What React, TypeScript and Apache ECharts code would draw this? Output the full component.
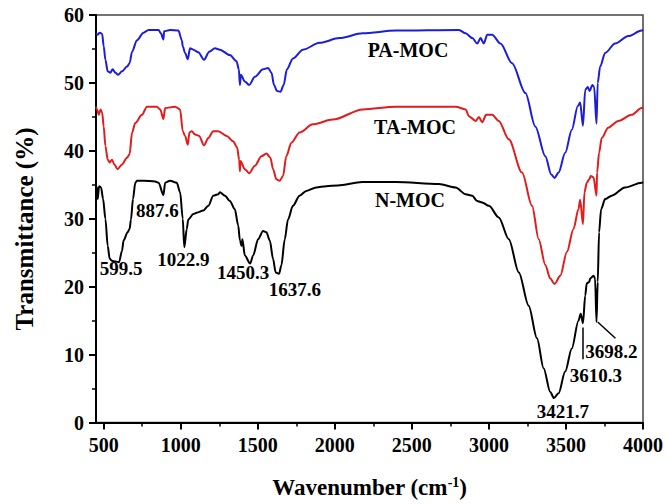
import React, { useEffect, useRef } from "react";
import * as echarts from "echarts";

// FTIR spectra: [wavenumber (cm-1), transmittance (%)]
const paMoc: [number, number][] = [
  [450, 57.3], [461, 57.1], [474, 57.4], [490, 57.2], [500, 55.4], [511, 53.4], [526, 51.7],
  [543, 51.5], [558, 52.0], [576, 51.5], [593, 51.2], [619, 51.7], [651, 52.4], [668, 52.9],
  [684, 54.6], [716, 56.3], [759, 57.4], [791, 57.8], [856, 57.8], [871, 57.3], [887.6, 56.4],
  [892, 57.6], [931, 57.8], [985, 57.7], [1007, 56.3], [1013, 55.4], [1028, 54.4], [1046, 53.5],
  [1060, 55.1], [1082, 54.9], [1114, 54.5], [1151, 53.4], [1185, 54.6], [1222, 55.1], [1254, 54.9],
  [1319, 54.1], [1362, 53.2], [1377, 52.0], [1384, 49.7], [1390, 51.2], [1416, 50.2], [1444, 49.7],
  [1481, 50.9], [1534, 52.0], [1567, 52.2], [1589, 51.5], [1605, 49.7], [1625, 48.8], [1647, 48.7],
  [1668, 49.7], [1689, 52.0], [1728, 53.6], [1793, 54.9], [1901, 55.9], [2030, 56.6], [2181, 57.3],
  [2397, 57.7], [2806, 57.8], [2849, 57.3], [2892, 56.6], [2924, 55.8], [2946, 56.6], [2967, 55.8],
  [2989, 57.1], [3021, 57.1], [3075, 55.8], [3150, 52.9], [3237, 48.5], [3301, 43.6], [3366, 39.2],
  [3405, 36.5], [3426, 36.0], [3452, 36.8], [3495, 39.7], [3538, 43.1], [3577, 46.6], [3592, 47.1],
  [3610.3, 43.7], [3625, 49.0], [3642, 49.4], [3653, 48.8], [3672, 49.7], [3683, 49.4], [3698.2, 44.0],
  [3706, 50.0], [3722, 52.4], [3754, 54.4], [3819, 55.8], [3905, 56.9], [3991, 57.7], [4000, 57.8],
];

const taMoc: [number, number][] = [
  [450, 46.5], [457, 46.1], [468, 45.3], [479, 46.1], [490, 45.6], [500, 43.6], [511, 40.7],
  [526, 38.7], [539, 38.3], [554, 38.7], [569, 38.0], [590, 37.3], [619, 38.0], [651, 39.0],
  [668, 39.5], [684, 42.7], [705, 44.1], [748, 45.3], [781, 46.5], [845, 46.5], [867, 46.1],
  [887.6, 44.7], [899, 46.3], [963, 46.5], [996, 46.1], [1013, 42.9], [1028, 42.2], [1046, 40.9],
  [1056, 42.7], [1071, 42.9], [1093, 42.4], [1119, 42.2], [1151, 40.8], [1179, 41.9], [1211, 42.9],
  [1243, 42.9], [1298, 42.2], [1340, 41.4], [1366, 40.5], [1379, 38.7], [1384, 37.0], [1388, 38.5],
  [1416, 37.3], [1444, 36.7], [1481, 37.8], [1524, 39.2], [1556, 39.6], [1582, 39.0], [1599, 37.3],
  [1621, 35.8], [1642, 35.6], [1664, 36.3], [1685, 39.2], [1718, 41.2], [1771, 42.7], [1857, 43.9],
  [1987, 44.6], [2181, 46.1], [2397, 46.5], [2784, 46.5], [2849, 46.1], [2870, 45.1], [2914, 44.4],
  [2935, 45.0], [2956, 44.2], [2982, 45.3], [3021, 45.3], [3064, 44.4], [3129, 41.7], [3215, 36.8],
  [3280, 31.9], [3323, 27.0], [3366, 23.2], [3398, 21.2], [3426, 20.4], [3463, 21.6], [3506, 25.1],
  [3549, 28.5], [3581, 31.4], [3592, 32.8], [3610.3, 29.2], [3620, 33.9], [3635, 35.3], [3651, 35.8],
  [3661, 36.3], [3679, 36.1], [3698.2, 33.4], [3702, 36.8], [3715, 39.7], [3732, 41.9], [3774, 43.4],
  [3840, 44.4], [3926, 45.3], [3991, 46.3], [4000, 46.4],
];

const nMoc: [number, number][] = [
  [450, 34.8], [457, 34.6], [461, 32.9], [470, 34.8], [483, 34.6], [496, 32.9], [511, 30.0],
  [526, 26.0], [539, 24.1], [554, 23.8], [576, 23.7], [599.5, 23.6], [619, 25.3], [629, 26.8],
  [655, 28.0], [668, 28.5], [677, 29.9], [690, 32.9], [705, 35.3], [716, 35.6], [759, 35.6],
  [834, 35.5], [856, 35.3], [887.6, 33.5], [899, 35.3], [931, 35.6], [974, 35.3], [996, 33.9],
  [1013, 30.0], [1022.9, 25.8], [1039, 28.5], [1049, 29.9], [1082, 30.7], [1104, 30.9], [1146, 31.2],
  [1179, 31.9], [1211, 33.4], [1243, 33.6], [1254, 33.9], [1287, 33.4], [1319, 32.6], [1351, 31.4],
  [1373, 29.0], [1384, 26.8], [1395, 26.0], [1400, 27.0], [1416, 24.6], [1450.3, 23.4], [1470, 24.6],
  [1502, 27.0], [1534, 28.2], [1556, 28.0], [1578, 26.8], [1599, 24.1], [1616, 22.1], [1637.6, 21.9],
  [1653, 23.1], [1675, 27.0], [1696, 29.9], [1728, 31.9], [1771, 33.4], [1815, 34.1], [1879, 34.6],
  [1944, 34.8], [2019, 34.9], [2179, 35.4], [2397, 35.4], [2676, 35.1], [2784, 34.6], [2849, 33.6],
  [2892, 33.4], [2924, 32.6], [2956, 32.4], [3000, 31.9], [3064, 30.2], [3129, 27.0], [3194, 22.1],
  [3258, 17.2], [3312, 12.4], [3355, 8.0], [3398, 4.5], [3421.7, 3.6], [3452, 4.3], [3495, 7.5],
  [3538, 10.9], [3581, 15.0], [3596, 16.0], [3610.3, 14.6], [3625, 18.7], [3635, 20.5], [3651, 20.7],
  [3657, 21.2], [3679, 21.6], [3689, 21.2], [3698.2, 14.8], [3706, 20.7], [3715, 28.0], [3728, 31.4],
  [3754, 32.9], [3797, 33.4], [3883, 34.6], [3991, 35.3], [4000, 35.4],
];

// Peak positions annotated on the N-MOC spectrum
const peakWaves = [599.5, 887.6, 1022.9, 1450.3, 1637.6, 3421.7, 3610.3, 3698.2];

const xLabelTicks = [500, 1000, 1500, 2000, 2500, 3000, 3500, 4000];
const xMinorTicks = [750, 1250, 1750, 2250, 2750, 3250, 3750];

const FONT = '"Liberation Serif", "Times New Roman", serif';

// pixel offsets of each peak label from its dip
const peakLabelOffset: Record<string, [number, number]> = {
  "599.5": [2, 6],
  "887.6": [-6, 16],
  "1022.9": [-1, 12],
  "1450.3": [-7, 9],
  "1637.6": [16, 16],
  "3421.7": [9, 13],
  "3610.3": [13, 52],
  "3698.2": [15, 30],
};

function valueAt(series: [number, number][], w: number): number {
  const p = series.find((d) => d[0] === w);
  return p ? p[1] : 0;
}

export default function App() {
  const ref = useRef<HTMLDivElement>(null);

  useEffect(() => {
    if (!ref.current) return;
    const chart = echarts.init(ref.current, undefined, { renderer: "svg" });

    const lineBase = {
      type: "line" as const,
      showSymbol: false,
      smooth: 0.3,
      smoothMonotone: "x" as const,
      xAxisIndex: 0,
      yAxisIndex: 0,
      silent: true,
    };

    chart.setOption({
      animation: false,
      backgroundColor: "#ffffff",
      textStyle: { fontFamily: FONT },
      grid: {
        left: 96,
        right: 22,
        top: 15,
        bottom: 80,
        show: true,
        borderColor: "#444",
        borderWidth: 1.5,
      },
      xAxis: [
        {
          type: "value",
          min: 450,
          max: 4000,
          name: "Wavenumber (cm{sup|-1})",
          nameLocation: "middle",
          nameGap: 53,
          nameTextStyle: {
            fontFamily: FONT,
            fontSize: 23,
            fontWeight: "bold",
            color: "#000",
            rich: {
              sup: {
                fontFamily: FONT,
                fontSize: 14,
                fontWeight: "bold",
                color: "#000",
                verticalAlign: "top",
                padding: [0, 0, 10, 0],
              },
            },
          },
          axisLine: { show: true, lineStyle: { color: "#000", width: 2 } },
          axisTick: { show: true, length: 7, lineStyle: { color: "#000", width: 2 }, customValues: xLabelTicks },
          axisLabel: {
            customValues: xLabelTicks,
            formatter: (v: number) => String(v),
            margin: 12,
            fontFamily: FONT,
            fontSize: 20,
            fontWeight: "bold",
            color: "#000",
          },
          splitLine: { show: false },
        },
        {
          type: "value",
          min: 450,
          max: 4000,
          position: "bottom",
          axisLine: { show: false },
          axisTick: { show: true, length: 4, lineStyle: { color: "#000", width: 1.5 }, customValues: xMinorTicks },
          axisLabel: { show: false },
          splitLine: { show: false },
        },
      ],
      yAxis: {
        type: "value",
        min: 0,
        max: 60,
        interval: 10,
        axisLine: { show: true, lineStyle: { color: "#000", width: 2 } },
        axisTick: { show: true, length: 7, lineStyle: { color: "#000", width: 2 } },
        minorTick: { show: true, splitNumber: 2, length: 4, lineStyle: { color: "#000", width: 1.5 } },
        axisLabel: { margin: 12, fontFamily: FONT, fontSize: 20, fontWeight: "bold", color: "#000" },
        splitLine: { show: false },
        minorSplitLine: { show: false },
      },
      series: [
        { ...lineBase, name: "PA-MOC", data: paMoc, lineStyle: { color: "#1c1cdc", width: 2 }, itemStyle: { color: "#1c1cdc" } },
        { ...lineBase, name: "TA-MOC", data: taMoc, lineStyle: { color: "#e21c1c", width: 2 }, itemStyle: { color: "#e21c1c" } },
        {
          ...lineBase,
          name: "N-MOC",
          data: nMoc,
          lineStyle: { color: "#000", width: 2 },
          itemStyle: { color: "#000" },
          markPoint: {
            symbol: "circle",
            symbolSize: 1,
            itemStyle: { color: "rgba(0,0,0,0)" },
            label: {
              show: true,
              position: "inside",
              fontFamily: FONT,
              fontSize: 19,
              fontWeight: "bold",
              color: "#000",
            },
            data: peakWaves.map((w) => {
              const txt = String(w);
              return {
                coord: [w, valueAt(nMoc, w)],
                label: { formatter: txt, offset: peakLabelOffset[txt] },
              };
            }),
          },
          markLine: {
            silent: true,
            symbol: ["none", "none"],
            label: { show: false },
            lineStyle: { color: "#000", width: 1.5, type: "solid" },
            data: [
              [{ coord: [3610.3, 14.0] }, { coord: [3610.3, 9.3] }],
              [{ coord: [3706, 14.8] }, { coord: [3821, 12.4] }],
            ],
          },
        },
      ],
      graphic: [
        {
          type: "text",
          x: 24,
          y: 229,
          rotation: Math.PI / 2,
          style: { text: "Transmittance (%)", font: `bold 25px ${FONT}`, fill: "#000", align: "center", verticalAlign: "middle" },
        },
        { type: "text", x: 408, y: 50, style: { text: "PA-MOC", font: `bold 20px ${FONT}`, fill: "#000", align: "center", verticalAlign: "middle" } },
        { type: "text", x: 415, y: 127, style: { text: "TA-MOC", font: `bold 20px ${FONT}`, fill: "#000", align: "center", verticalAlign: "middle" } },
        { type: "text", x: 410, y: 200, style: { text: "N-MOC", font: `bold 20px ${FONT}`, fill: "#000", align: "center", verticalAlign: "middle" } },
      ],
    });

    return () => chart.dispose();
  }, []);

  return <div ref={ref} style={{ position: "fixed", left: 0, top: 0, width: 666, height: 504 }} />;
}
